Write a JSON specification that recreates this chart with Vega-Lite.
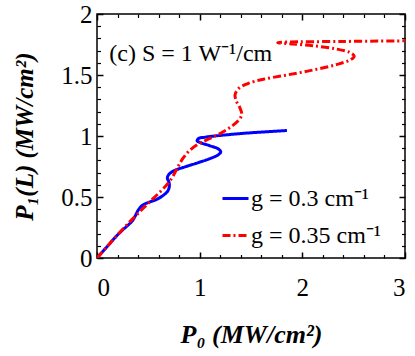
{
  "$schema": "https://vega.github.io/schema/vega-lite/v6.json",
  "width": 308,
  "height": 244,
  "autosize": {"type": "none"},
  "padding": {"left": 97, "top": 14, "right": 10, "bottom": 98},
  "background": "white",
  "config": {"view": {"stroke": "black", "strokeWidth": 1.5}, "font": "Liberation Serif"},
  "datasets": {
    "curves": [
      {"g": "g = 0.3 cm⁻¹", "i": 1, "P0": 0, "P1": 0},
      {"g": "g = 0.3 cm⁻¹", "i": 2, "P0": 0.1, "P1": 0.095},
      {"g": "g = 0.3 cm⁻¹", "i": 3, "P0": 0.19, "P1": 0.18},
      {"g": "g = 0.3 cm⁻¹", "i": 4, "P0": 0.25, "P1": 0.23},
      {"g": "g = 0.3 cm⁻¹", "i": 5, "P0": 0.29, "P1": 0.26},
      {"g": "g = 0.3 cm⁻¹", "i": 6, "P0": 0.34, "P1": 0.3},
      {"g": "g = 0.3 cm⁻¹", "i": 7, "P0": 0.37, "P1": 0.34},
      {"g": "g = 0.3 cm⁻¹", "i": 8, "P0": 0.4, "P1": 0.39},
      {"g": "g = 0.3 cm⁻¹", "i": 9, "P0": 0.44, "P1": 0.43},
      {"g": "g = 0.3 cm⁻¹", "i": 10, "P0": 0.5, "P1": 0.455},
      {"g": "g = 0.3 cm⁻¹", "i": 11, "P0": 0.58, "P1": 0.48},
      {"g": "g = 0.3 cm⁻¹", "i": 12, "P0": 0.64, "P1": 0.51},
      {"g": "g = 0.3 cm⁻¹", "i": 13, "P0": 0.69, "P1": 0.55},
      {"g": "g = 0.3 cm⁻¹", "i": 14, "P0": 0.705, "P1": 0.59},
      {"g": "g = 0.3 cm⁻¹", "i": 15, "P0": 0.7, "P1": 0.625},
      {"g": "g = 0.3 cm⁻¹", "i": 16, "P0": 0.685, "P1": 0.655},
      {"g": "g = 0.3 cm⁻¹", "i": 17, "P0": 0.7, "P1": 0.685},
      {"g": "g = 0.3 cm⁻¹", "i": 18, "P0": 0.75, "P1": 0.715},
      {"g": "g = 0.3 cm⁻¹", "i": 19, "P0": 0.85, "P1": 0.745},
      {"g": "g = 0.3 cm⁻¹", "i": 20, "P0": 0.98, "P1": 0.78},
      {"g": "g = 0.3 cm⁻¹", "i": 21, "P0": 1.1, "P1": 0.815},
      {"g": "g = 0.3 cm⁻¹", "i": 22, "P0": 1.18, "P1": 0.845},
      {"g": "g = 0.3 cm⁻¹", "i": 23, "P0": 1.205, "P1": 0.87},
      {"g": "g = 0.3 cm⁻¹", "i": 24, "P0": 1.18, "P1": 0.895},
      {"g": "g = 0.3 cm⁻¹", "i": 25, "P0": 1.1, "P1": 0.92},
      {"g": "g = 0.3 cm⁻¹", "i": 26, "P0": 1.01, "P1": 0.945},
      {"g": "g = 0.3 cm⁻¹", "i": 27, "P0": 0.975, "P1": 0.96},
      {"g": "g = 0.3 cm⁻¹", "i": 28, "P0": 0.99, "P1": 0.98},
      {"g": "g = 0.3 cm⁻¹", "i": 29, "P0": 1.05, "P1": 0.99},
      {"g": "g = 0.3 cm⁻¹", "i": 30, "P0": 1.4, "P1": 1.02},
      {"g": "g = 0.3 cm⁻¹", "i": 31, "P0": 1.85, "P1": 1.045},
      {"g": "g = 0.35 cm⁻¹", "i": 1, "P0": 0, "P1": 0},
      {"g": "g = 0.35 cm⁻¹", "i": 2, "P0": 0.1, "P1": 0.095},
      {"g": "g = 0.35 cm⁻¹", "i": 3, "P0": 0.2, "P1": 0.19},
      {"g": "g = 0.35 cm⁻¹", "i": 4, "P0": 0.3, "P1": 0.28},
      {"g": "g = 0.35 cm⁻¹", "i": 5, "P0": 0.4, "P1": 0.365},
      {"g": "g = 0.35 cm⁻¹", "i": 6, "P0": 0.5, "P1": 0.45},
      {"g": "g = 0.35 cm⁻¹", "i": 7, "P0": 0.6, "P1": 0.53},
      {"g": "g = 0.35 cm⁻¹", "i": 8, "P0": 0.68, "P1": 0.6},
      {"g": "g = 0.35 cm⁻¹", "i": 9, "P0": 0.74, "P1": 0.67},
      {"g": "g = 0.35 cm⁻¹", "i": 10, "P0": 0.79, "P1": 0.75},
      {"g": "g = 0.35 cm⁻¹", "i": 11, "P0": 0.84, "P1": 0.82},
      {"g": "g = 0.35 cm⁻¹", "i": 12, "P0": 0.9, "P1": 0.88},
      {"g": "g = 0.35 cm⁻¹", "i": 13, "P0": 0.98, "P1": 0.93},
      {"g": "g = 0.35 cm⁻¹", "i": 14, "P0": 1.1, "P1": 0.98},
      {"g": "g = 0.35 cm⁻¹", "i": 15, "P0": 1.22, "P1": 1.03},
      {"g": "g = 0.35 cm⁻¹", "i": 16, "P0": 1.32, "P1": 1.085},
      {"g": "g = 0.35 cm⁻¹", "i": 17, "P0": 1.39, "P1": 1.14},
      {"g": "g = 0.35 cm⁻¹", "i": 18, "P0": 1.41, "P1": 1.18},
      {"g": "g = 0.35 cm⁻¹", "i": 19, "P0": 1.39, "P1": 1.235},
      {"g": "g = 0.35 cm⁻¹", "i": 20, "P0": 1.355, "P1": 1.29},
      {"g": "g = 0.35 cm⁻¹", "i": 21, "P0": 1.345, "P1": 1.34},
      {"g": "g = 0.35 cm⁻¹", "i": 22, "P0": 1.38, "P1": 1.39},
      {"g": "g = 0.35 cm⁻¹", "i": 23, "P0": 1.47, "P1": 1.43},
      {"g": "g = 0.35 cm⁻¹", "i": 24, "P0": 1.62, "P1": 1.465},
      {"g": "g = 0.35 cm⁻¹", "i": 25, "P0": 1.85, "P1": 1.5},
      {"g": "g = 0.35 cm⁻¹", "i": 26, "P0": 2.1, "P1": 1.54},
      {"g": "g = 0.35 cm⁻¹", "i": 27, "P0": 2.33, "P1": 1.585},
      {"g": "g = 0.35 cm⁻¹", "i": 28, "P0": 2.47, "P1": 1.625},
      {"g": "g = 0.35 cm⁻¹", "i": 29, "P0": 2.505, "P1": 1.655},
      {"g": "g = 0.35 cm⁻¹", "i": 30, "P0": 2.46, "P1": 1.685},
      {"g": "g = 0.35 cm⁻¹", "i": 31, "P0": 2.32, "P1": 1.715},
      {"g": "g = 0.35 cm⁻¹", "i": 32, "P0": 2.1, "P1": 1.74},
      {"g": "g = 0.35 cm⁻¹", "i": 33, "P0": 1.9, "P1": 1.755},
      {"g": "g = 0.35 cm⁻¹", "i": 34, "P0": 1.76, "P1": 1.765},
      {"g": "g = 0.35 cm⁻¹", "i": 35, "P0": 1.85, "P1": 1.77},
      {"g": "g = 0.35 cm⁻¹", "i": 36, "P0": 2.4, "P1": 1.775},
      {"g": "g = 0.35 cm⁻¹", "i": 37, "P0": 3.0, "P1": 1.78}
    ],
    "note": [{"P0": 0.12, "P1": 1.615, "label": "(c) S = 1 W⁻¹/cm"}]
  },
  "layer": [
    {
      "data": {"name": "curves"},
      "mark": {"type": "line", "strokeWidth": 3, "interpolate": "catmull-rom", "clip": true},
      "encoding": {
        "x": {"field": "P0", "type": "quantitative", "scale": {"domain": [0, 3], "nice": false},
          "axis": {"orient": "bottom", "values": [0, 1, 2, 3], "ticks": false, "domain": false, "grid": false,
            "labelFontSize": 25, "labelFont": "Liberation Serif", "labelColor": "black", "labelPadding": 17, "format": "~g",
            "title": "P₀ (MW/cm²)", "titleFont": "Liberation Serif", "titleFontStyle": "italic", "titleFontWeight": "bold",
            "titleFontSize": 26, "titleColor": "black", "titlePadding": 21}},
        "y": {"field": "P1", "type": "quantitative", "scale": {"domain": [0, 2], "nice": false},
          "axis": {"orient": "left", "values": [0, 0.5, 1, 1.5, 2], "ticks": false, "domain": false, "grid": false,
            "labelFontSize": 25, "labelFont": "Liberation Serif", "labelColor": "black", "labelPadding": 5, "format": "~g",
            "title": "P₁(L) (MW/cm²)", "titleFont": "Liberation Serif", "titleFontStyle": "italic", "titleFontWeight": "bold",
            "titleFontSize": 25, "titleColor": "black", "titlePadding": 23}},
        "color": {"field": "g", "type": "nominal",
          "scale": {"domain": ["g = 0.3 cm⁻¹", "g = 0.35 cm⁻¹"], "range": ["#0000ff", "#ff0000"]},
          "legend": {"orient": "none", "legendX": 124, "legendY": 170, "title": null, "symbolType": "stroke",
            "symbolSize": 676, "symbolStrokeWidth": 3, "labelFontSize": 24, "labelFont": "Liberation Serif",
            "labelColor": "black", "rowPadding": 10, "labelOffset": 1, "labelBaseline": "middle"}},
        "strokeDash": {"field": "g", "type": "nominal",
          "scale": {"domain": ["g = 0.3 cm⁻¹", "g = 0.35 cm⁻¹"], "range": [[1, 0], [8, 3, 2, 3]]}},
        "order": {"field": "i", "type": "quantitative"}
      }
    },
    {
      "data": {"name": "note"},
      "mark": {"type": "text", "align": "left", "baseline": "alphabetic", "fontSize": 24, "font": "Liberation Serif", "color": "black"},
      "encoding": {
        "x": {"field": "P0", "type": "quantitative", "scale": {"domain": [0, 3], "nice": false}, "axis": null},
        "y": {"field": "P1", "type": "quantitative", "scale": {"domain": [0, 2], "nice": false}, "axis": null},
        "text": {"field": "label"}
      }
    },
    {
      "data": {"name": "note"},
      "mark": {"type": "point", "opacity": 0},
      "encoding": {
        "x": {"field": "P0", "type": "quantitative", "scale": {"domain": [0, 3], "nice": false},
          "axis": {"orient": "bottom", "values": [0, 1, 2, 3], "labels": false, "domain": false, "grid": false, "title": null, "tickSize": -6, "tickColor": "black", "tickWidth": 1.5}},
        "y": {"field": "P1", "type": "quantitative", "scale": {"domain": [0, 2], "nice": false},
          "axis": {"orient": "left", "values": [0, 0.5, 1, 1.5, 2], "labels": false, "domain": false, "grid": false, "title": null, "tickSize": -6, "tickColor": "black", "tickWidth": 1.5}}
      }
    },
    {
      "data": {"name": "note"},
      "mark": {"type": "point", "opacity": 0},
      "encoding": {
        "x": {"field": "P0", "type": "quantitative", "scale": {"domain": [0, 3], "nice": false},
          "axis": {"orient": "bottom", "values": [0.2, 0.4, 0.6, 0.8, 1.2, 1.4, 1.6, 1.8, 2.2, 2.4, 2.6, 2.8], "labels": false, "domain": false, "grid": false, "title": null, "tickSize": -3.5, "tickColor": "black", "tickWidth": 1.2}},
        "y": {"field": "P1", "type": "quantitative", "scale": {"domain": [0, 2], "nice": false},
          "axis": {"orient": "left", "values": [0.1, 0.2, 0.3, 0.4, 0.6, 0.7, 0.8, 0.9, 1.1, 1.2, 1.3, 1.4, 1.6, 1.7, 1.8, 1.9], "labels": false, "domain": false, "grid": false, "title": null, "tickSize": -3.5, "tickColor": "black", "tickWidth": 1.2}}
      }
    },
    {
      "data": {"name": "note"},
      "mark": {"type": "point", "opacity": 0},
      "encoding": {
        "x": {"field": "P0", "type": "quantitative", "scale": {"domain": [0, 3], "nice": false},
          "axis": {"orient": "top", "values": [0, 1, 2, 3], "labels": false, "domain": false, "grid": false, "title": null, "tickSize": -6, "tickColor": "black", "tickWidth": 1.5}},
        "y": {"field": "P1", "type": "quantitative", "scale": {"domain": [0, 2], "nice": false},
          "axis": {"orient": "right", "values": [0, 0.5, 1, 1.5, 2], "labels": false, "domain": false, "grid": false, "title": null, "tickSize": -6, "tickColor": "black", "tickWidth": 1.5}}
      }
    },
    {
      "data": {"name": "note"},
      "mark": {"type": "point", "opacity": 0},
      "encoding": {
        "x": {"field": "P0", "type": "quantitative", "scale": {"domain": [0, 3], "nice": false},
          "axis": {"orient": "top", "values": [0.2, 0.4, 0.6, 0.8, 1.2, 1.4, 1.6, 1.8, 2.2, 2.4, 2.6, 2.8], "labels": false, "domain": false, "grid": false, "title": null, "tickSize": -3.5, "tickColor": "black", "tickWidth": 1.2}},
        "y": {"field": "P1", "type": "quantitative", "scale": {"domain": [0, 2], "nice": false},
          "axis": {"orient": "right", "values": [0.1, 0.2, 0.3, 0.4, 0.6, 0.7, 0.8, 0.9, 1.1, 1.2, 1.3, 1.4, 1.6, 1.7, 1.8, 1.9], "labels": false, "domain": false, "grid": false, "title": null, "tickSize": -3.5, "tickColor": "black", "tickWidth": 1.2}}
      }
    }
  ],
  "resolve": {"axis": {"x": "independent", "y": "independent"}}
}
